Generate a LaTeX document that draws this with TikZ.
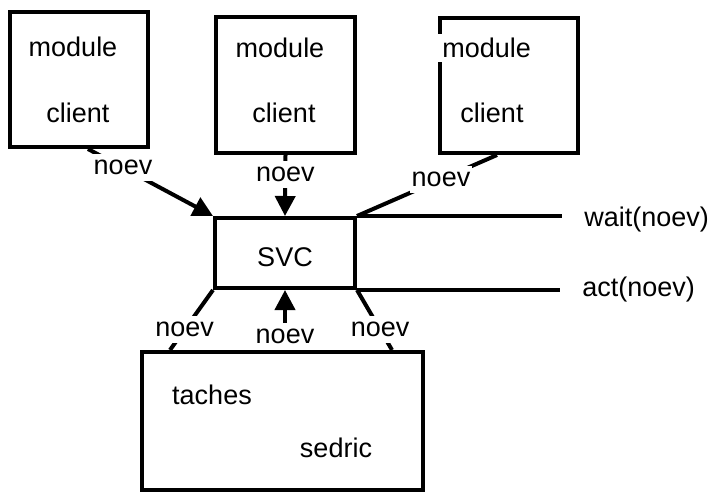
\documentclass[tikz,border=0pt]{standalone}
\usepackage{fontspec}
\setmainfont{Liberation Sans}
\usetikzlibrary{arrows.meta}

\begin{document}
\begin{tikzpicture}[x=0.5pt,y=-0.5pt,
  box/.style={draw=black,line width=2pt,inner sep=0pt},
  txt/.style={inner sep=1pt,font=\fontsize{13.5}{16}\selectfont},
  lbl/.style={txt,fill=white,inner ysep=3pt},
  wire/.style={line width=2pt},
  arr/.style={wire,-{Triangle[length=10pt,width=10pt]}}]
  \useasboundingbox (0,0) rectangle (711,492);
  % client modules
  \node[box,minimum width=69pt,minimum height=67.5pt] (m1) at (79,79.5) {};
  \node[box,minimum width=69.5pt,minimum height=68pt] (m2) at (285.5,85) {};
  \node[box,minimum width=69pt,minimum height=67.5pt] (m3) at (509,85.5) {};
  \node[txt] (m1mod) at (73,47) {module};
  \node[txt] (m1cli) at (78,113) {client};
  \node[txt] (m2mod) at (280,48) {module};
  \node[txt] (m2cli) at (284,113) {client};
  \node[txt,fill=white,inner sep=2pt,anchor=west] (m3mod) at (438,48) {module};
  \node[txt] (m3cli) at (492,113) {client};
  % svc
  \node[box,minimum width=70pt,minimum height=35pt] (svc) at (285,253) {};
  \node[txt] (svclbl) at (285,257) {SVC};
  % taches
  \node[box,minimum width=140.5pt,minimum height=69pt] (taches) at (282.5,421) {};
  \node[txt] (tachlbl) at (212,395) {taches};
  \node[txt] (sedlbl) at (336,448) {sedric};
  % signals
  \node[txt,anchor=west] (wait) at (582,220) {wait(noev)};
  \node[txt,anchor=west] (act) at (580,290) {act(noev)};
  \draw[wire,shorten >=10pt] (svc.north east) -- (svc.north east -| wait.west);
  \draw[wire,shorten >=10pt] (svc.south east) -- (svc.south east -| act.west);
  % connectors
  \draw[arr] ([xshift=4.5pt]m1.south) -- node[lbl,pos=0.28]{noev} (svc.north west);
  \draw[arr] (m2.south) -- node[lbl,pos=0.32]{noev} (svc.north);
  \draw[wire] ([xshift=-6pt]m3.south) -- node[lbl,pos=0.4]{noev} (svc.north east);
  \draw[wire] ([xshift=15pt]taches.north west) -- node[lbl,pos=0.34]{noev} (svc.south west);
  \draw[arr] (taches.north -| svc.south) -- node[lbl,pos=0.23]{noev} (svc.south);
  \draw[wire] ([xshift=-16.5pt]taches.north east) -- node[lbl,pos=0.34]{noev} (svc.south east);
\end{tikzpicture}
\end{document}
